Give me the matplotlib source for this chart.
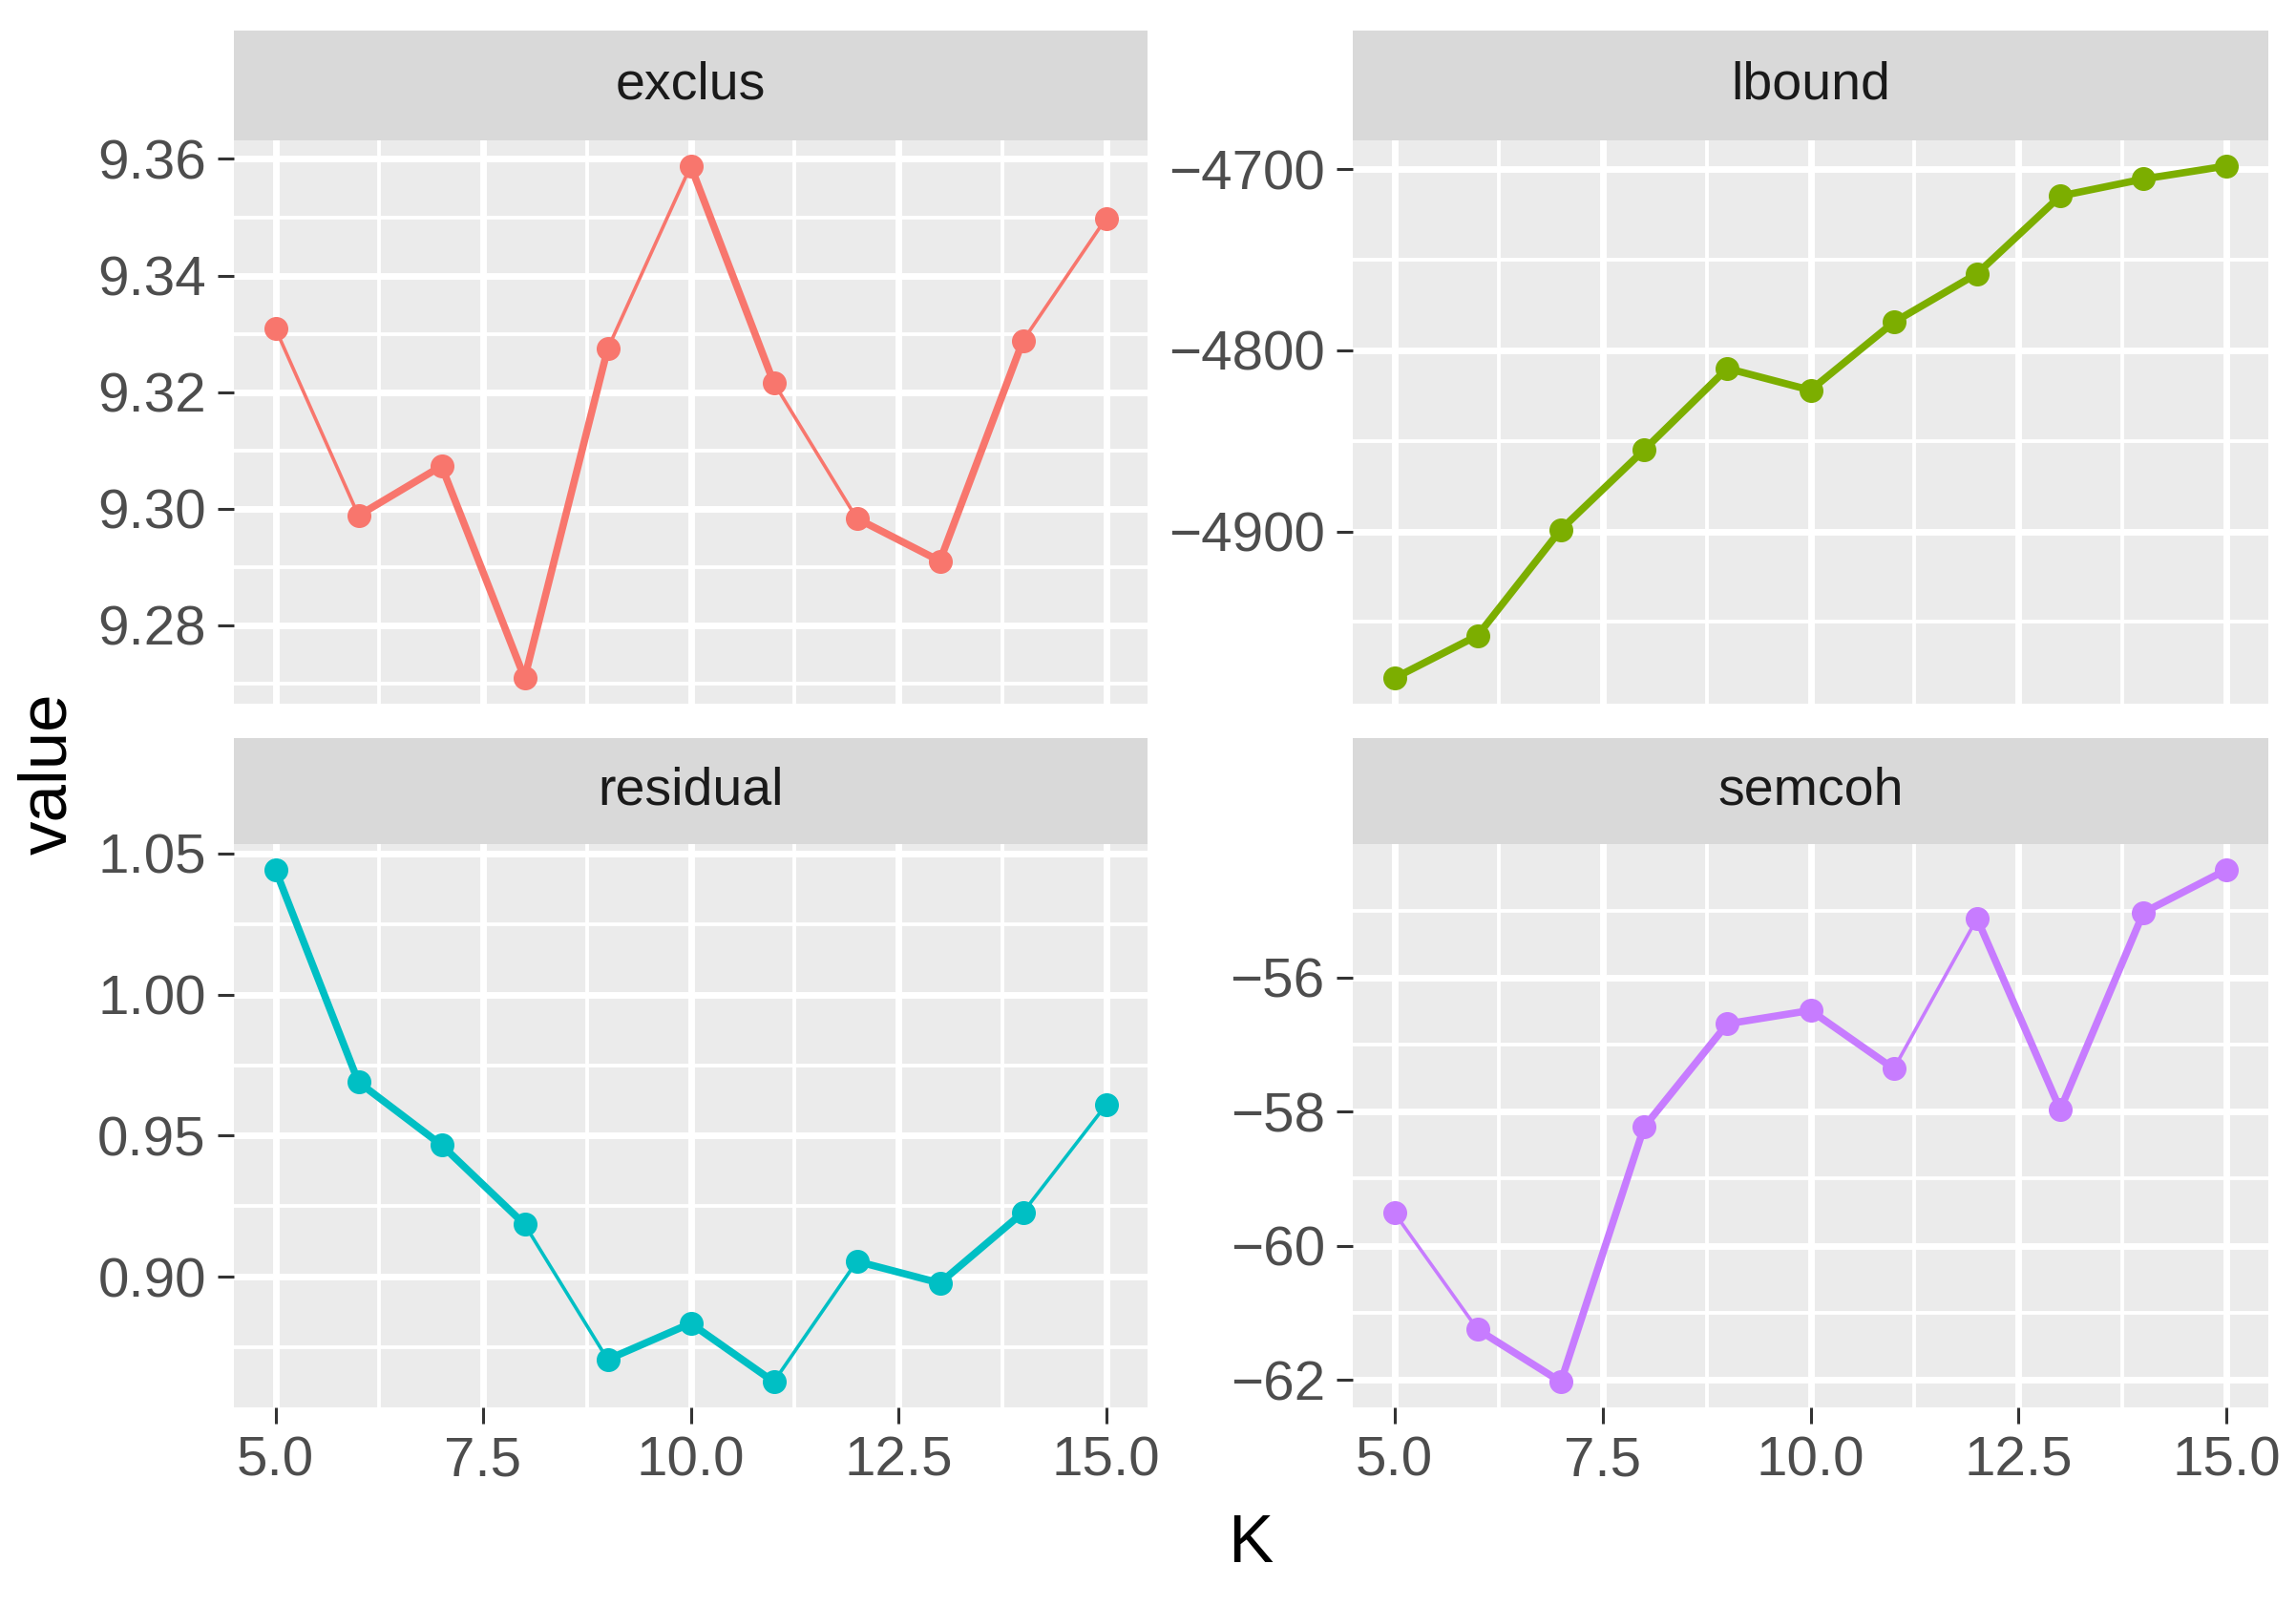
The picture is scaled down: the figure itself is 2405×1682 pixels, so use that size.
import numpy as np
import matplotlib
matplotlib.use("Agg")
import matplotlib.pyplot as plt
from matplotlib.ticker import MultipleLocator, FuncFormatter

plt.rcParams['font.family'] = ['Liberation Sans', 'DejaVu Sans']

K = [5, 6, 7, 8, 9, 10, 11, 12, 13, 14, 15]
exclus = [9.3309, 9.2988, 9.3073, 9.2709, 9.3274, 9.3588, 9.3216, 9.2983, 9.2910, 9.3288, 9.3498]
lbound = [-4981, -4957.5, -4899, -4855, -4810, -4822, -4784.5, -4757.7, -4714.8, -4705.4, -4698.2]
residual = [1.0443, 0.969, 0.9467, 0.9186, 0.8707, 0.8835, 0.8628, 0.9055, 0.8978, 0.9228, 0.9609]
semcoh = [-59.51, -61.25, -62.03, -58.23, -56.69, -56.49, -57.36, -55.12, -57.97, -55.03, -54.39]

names = ["exclus", "lbound", "residual", "semcoh"]
series = [exclus, lbound, residual, semcoh]
colors = ["#F8766D", "#7CAE00", "#00BFC4", "#C77CFF"]
# thick (1) / thin (0) look of each segment in the original render
seg_thick = [
    [0, 1, 1, 1, 0, 1, 0, 1, 1, 0],
    [1, 1, 1, 1, 1, 1, 1, 1, 1, 1],
    [1, 1, 1, 0, 1, 1, 0, 1, 1, 0],
    [0, 1, 1, 1, 1, 1, 0, 1, 1, 1],
]
y_major = [0.02, 100, 0.05, 2]
y_fmt = ["{:.2f}", "{:.0f}", "{:.2f}", "{:.0f}"]


def minus_fmt(f):
    return FuncFormatter(lambda v, p: f.format(v).replace("-", "\u2212"))


fig = plt.figure(figsize=(24.05, 16.82), dpi=100)
W, H = 2405, 1682
cols = [(245, 1202), (1417, 2376)]
rows = [(32, 147, 737), (773, 884, 1474)]

for i, name in enumerate(names):
    r, c = divmod(i, 2)
    x0, x1 = cols[c]
    st, pt, pb = rows[r]
    ax = fig.add_axes([x0 / W, 1 - pb / H, (x1 - x0) / W, (pb - pt) / H])
    sax = fig.add_axes([x0 / W, 1 - pt / H, (x1 - x0) / W, (pt - st) / H])
    sax.set_facecolor("#D9D9D9")
    sax.set_xticks([])
    sax.set_yticks([])
    for s in sax.spines.values():
        s.set_visible(False)
    sax.text(0.5, 0.5, name, ha="center", va="center", fontsize=40, color="#1A1A1A",
             transform=sax.transAxes)

    ax.set_facecolor("#EBEBEB")
    for s in ax.spines.values():
        s.set_visible(False)
    ys = series[i]
    for j in range(len(K) - 1):
        lw = 5.5 if seg_thick[i][j] else 2.6
        ax.plot(K[j:j + 2], ys[j:j + 2], color=colors[i], lw=lw, solid_capstyle="round", zorder=3)
    ax.plot(K, ys, "o", color=colors[i], ms=17, zorder=4)
    ax.margins(0.05)
    ax.xaxis.set_major_locator(MultipleLocator(2.5))
    ax.xaxis.set_minor_locator(MultipleLocator(1.25))
    ax.yaxis.set_major_locator(MultipleLocator(y_major[i]))
    ax.yaxis.set_minor_locator(MultipleLocator(y_major[i] / 2))
    ax.grid(which="major", color="white", lw=5, zorder=0)
    ax.grid(which="minor", color="white", lw=2.8, zorder=0)
    ax.set_axisbelow(True)
    ax.tick_params(axis="both", which="major", length=12, width=2.2, color="#333333",
                   labelsize=42, labelcolor="#4D4D4D", pad=9)
    ax.tick_params(axis="both", which="minor", length=0)
    ax.yaxis.set_major_formatter(minus_fmt(y_fmt[i]))
    if r == 0:
        ax.tick_params(axis="x", which="major", length=0, labelbottom=False)
    else:
        ax.xaxis.set_major_formatter(minus_fmt("{:.1f}"))

fig.text(51 / W, 1 - 810 / H, "value", rotation=90, ha="center", va="center", fontsize=51)
fig.text(1310 / W, 1 - 1618 / H, "K", ha="center", va="center", fontsize=51)

fig.savefig("out.png", dpi=100)
